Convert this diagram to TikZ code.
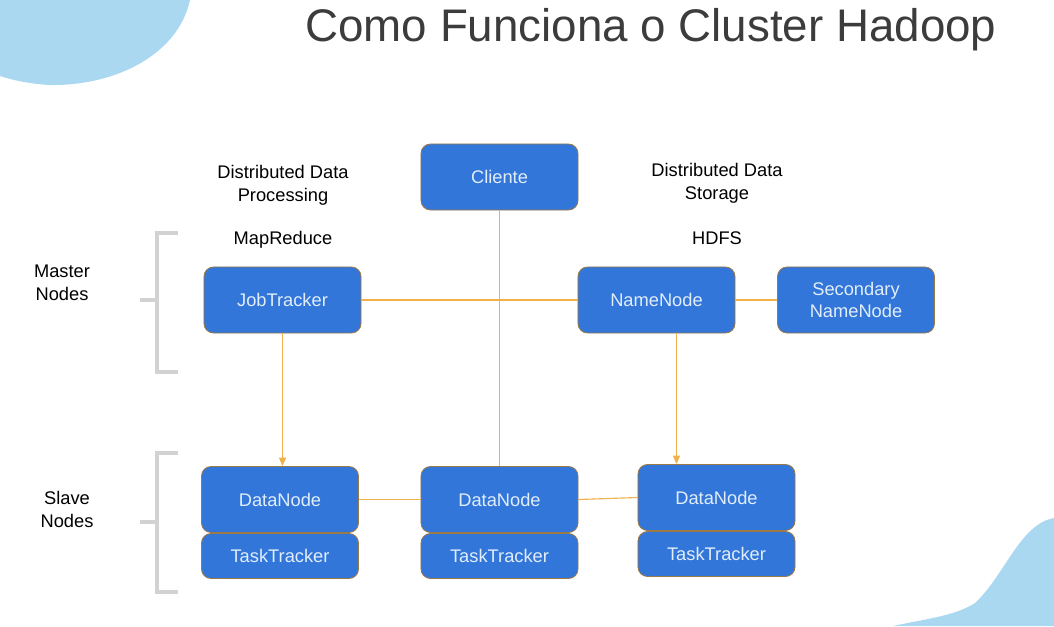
\documentclass[tikz,border=0pt]{standalone}
\usepackage{fontspec}
\setmainfont{Liberation Sans}
\usetikzlibrary{arrows.meta}
\definecolor{boxFill}{HTML}{3176D8}
\definecolor{boxBorder}{HTML}{9C7A48}
\definecolor{boxText}{HTML}{E2EDFB}
\definecolor{linkColor}{HTML}{F0B04A}
\definecolor{bracketColor}{HTML}{D2D2D2}
\definecolor{blobColor}{HTML}{AAD8F0}
\definecolor{titleColor}{HTML}{3C3C3C}

\begin{document}
\begin{tikzpicture}[x=0.025cm,y=-0.025cm,
  font=\fontsize{13}{16.3}\selectfont,
  hbox/.style={draw=boxBorder,fill=boxFill,text=boxText,rounded corners=0.24cm,
    line width=0.6pt,minimum width=3.925cm,minimum height=1.65cm,align=center,inner sep=0pt},
  hsmall/.style={hbox,minimum height=1.125cm},
  link/.style={linkColor,line width=0.8pt},
  bracket/.style={bracketColor,line width=2.2pt},
  label/.style={align=center,text=black}]
\useasboundingbox (0,0) rectangle (1054,626);
% background blobs
\fill[blobColor] (0,0) -- (190,0) .. controls (178,55) and (115,86) .. (50,85) .. controls (30,84) and (12,80) .. (0,76) -- cycle;
\fill[blobColor] (893,626) .. controls (925,619) and (955,616) .. (975,603) .. controls (1005,575) and (1020,524) .. (1054,518) -- (1054,626) -- cycle;

\node[text=titleColor,font=\fontsize{32.5}{39}\selectfont] (title) at (651,30) {Como Funciona o Cluster Hadoop};

% column labels
\node[label] (processing) at (283,185) {Distributed Data\\Processing};
\node[label] (mapreduce) at (283,240) {MapReduce};
\node[label] (storage) at (717,183) {Distributed Data\\Storage};
\node[label] (hdfs) at (717,238) {HDFS};
\node[label] (master) at (62,283) {Master\\Nodes};
\node[label] (slave) at (67,509) {Slave\\Nodes};

% brackets
\draw[bracket] (178,233) -- (157,233) -- (157,372) -- (178,372) (157,300) -- (140,300);
\draw[bracket] (178,453) -- (157,453) -- (157,592) -- (178,592) (157,522) -- (140,522);

% master nodes
\node[hbox] (cliente) at (499.5,177) {Cliente};
\node[hbox] (jobtracker) at (282.5,300) {JobTracker};
\node[hbox] (namenode) at (656.5,300) {NameNode};
\node[hbox] (secondary) at (856,300) {Secondary\\NameNode};

% slave nodes
\node[hbox] (datanodeA) at (280,499.5) {DataNode};
\node[hsmall] (tasktrackerA) at (280,556) {TaskTracker};
\node[hbox] (datanodeB) at (499.5,499.5) {DataNode};
\node[hsmall] (tasktrackerB) at (499.5,556) {TaskTracker};
\node[hbox] (datanodeC) at (716.5,497.5) {DataNode};
\node[hsmall] (tasktrackerC) at (716.5,554) {TaskTracker};

% connectors
\draw[link] (jobtracker.east) -- (namenode.west);
\draw[link] (namenode.east) -- (secondary.west);
\draw[link] (cliente.south) -- (datanodeB.north);
\draw[link,-{Triangle[length=6pt,width=5pt]}] (jobtracker.south) -- (jobtracker.south |- datanodeA.north);
\draw[link,-{Triangle[length=6pt,width=5pt]}] ([xshift=0.5cm]namenode.south) -- ([xshift=0.5cm]namenode.south |- datanodeC.north);
\draw[link] (datanodeA.east) -- (datanodeB.west);
\draw[link] (datanodeB.east) -- (datanodeC.west);
\end{tikzpicture}
\end{document}
